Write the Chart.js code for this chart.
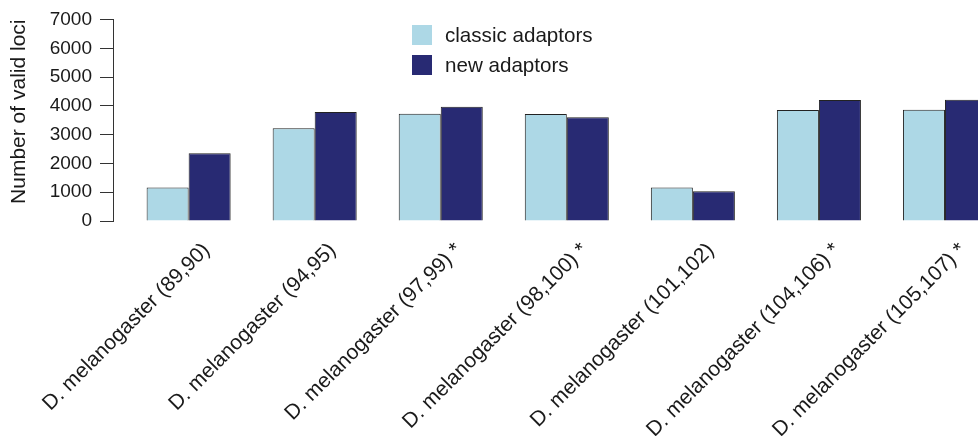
<!DOCTYPE html>
<html lang="en">
<head>
    <meta charset="UTF-8">
    <title>Number of valid loci</title>
    <style>
        body {
            margin: 0;
            background: #fff;
            overflow: hidden;
            font-family: "Liberation Sans", Arial, sans-serif;
        }
        #wrap {
            position: relative;
            width: 1008px;
            height: 436px;
        }
        #legend {
            position: absolute;
            left: 412px;
            top: 25px;
            font-size: 20.6px;
            color: #1a1a1a;
        }
        .item {
            display: flex;
            align-items: center;
            height: 20px;
            margin-bottom: 10px;
        }
        .box {
            width: 20px;
            height: 20px;
            margin-right: 13px;
        }
    </style>
    <script src="https://cdn.jsdelivr.net/npm/chart.js"></script>
</head>
<body>
    <div id="wrap">
        <canvas id="chart" width="1008" height="436"></canvas>
        <div id="legend"></div>
    </div>

    <script>
        // categories (pair numbers) and whether they carry the asterisk
        const categories = ['D. melanogaster (89,90)', 'D. melanogaster (94,95)', 'D. melanogaster (97,99) *',
            'D. melanogaster (98,100) *', 'D. melanogaster (101,102)', 'D. melanogaster (104,106) *',
            'D. melanogaster (105,107) *'];
        const classicAdaptors = [1160, 3220, 3730, 3715, 1160, 3855, 3865];
        const newAdaptors = [2350, 3790, 3970, 3605, 1030, 4205, 4215];
        const yTicks = [0, 1000, 2000, 3000, 4000, 5000, 6000, 7000];

        const textColor = '#1a1a1a';
        const fontFamily = '"Liberation Sans", Arial, sans-serif';

        function points(values) {
            return values.map((v, i) => ({ x: i, y: v }));
        }

        const datasets = [
            { label: 'classic adaptors', data: points(classicAdaptors), backgroundColor: '#add8e6' },
            { label: 'new adaptors', data: points(newAdaptors), backgroundColor: '#282a73' }
        ];
        datasets.forEach(d => {
            d.borderColor = '#222';
            d.borderWidth = 1;
            d.categoryPercentage = 2 / 3;
            d.barPercentage = 1;
        });

        const ctx = document.getElementById('chart').getContext('2d');
        const chart = new Chart(ctx, {
            type: 'bar',
            data: { datasets: datasets },
            options: {
                responsive: false,
                animation: false,
                layout: { padding: { top: 19.5, left: 0, right: 0, bottom: 0 } },
                plugins: {
                    legend: { display: false },
                    tooltip: { enabled: false }
                },
                scales: {
                    x: {
                        type: 'linear',
                        offset: false,
                        min: -0.6,
                        max: 6.5,
                        border: { display: false },
                        grid: { display: false, drawTicks: false, offset: false },
                        afterBuildTicks: s => {
                            s.ticks = s.ticks.filter(t => Math.abs(t.value - Math.round(t.value)) < 1e-6 && t.value >= 0 && t.value <= 6);
                        },
                        afterFit: s => {
                            s.height = 215;
                            s.paddingLeft = 0;
                            s.paddingRight = 0;
                        },
                        ticks: {
                            stepSize: 1,
                            autoSkip: false,
                            minRotation: 45,
                            maxRotation: 45,
                            padding: 17,
                            labelOffset: 18,
                            color: textColor,
                            font: { family: fontFamily, size: 21 },
                            callback: v => categories[Math.round(v)]
                        }
                    },
                    y: {
                        min: 0,
                        max: 7000,
                        afterBuildTicks: s => { s.ticks = yTicks.map(v => ({ value: v })); },
                        afterFit: s => { s.width = 113; },
                        border: { display: true, color: '#333', width: 1 },
                        grid: { drawOnChartArea: false, drawTicks: true, tickLength: 13, color: '#333' },
                        ticks: {
                            padding: 8,
                            color: textColor,
                            font: { family: fontFamily, size: 19 },
                            callback: v => String(v)
                        },
                        title: {
                            display: true,
                            text: 'Number of valid loci',
                            align: 'end',
                            color: textColor,
                            padding: { top: 7, bottom: 0 },
                            font: { family: fontFamily, size: 21 }
                        }
                    }
                }
            }
        });

        // legend built from the datasets
        const legend = document.getElementById('legend');
        chart.data.datasets.forEach(d => {
            const item = document.createElement('div');
            item.className = 'item';
            item.innerHTML = '<span class="box" style="background:' + d.backgroundColor + '"></span>' + d.label;
            legend.appendChild(item);
        });
    </script>
</body>
</html>
